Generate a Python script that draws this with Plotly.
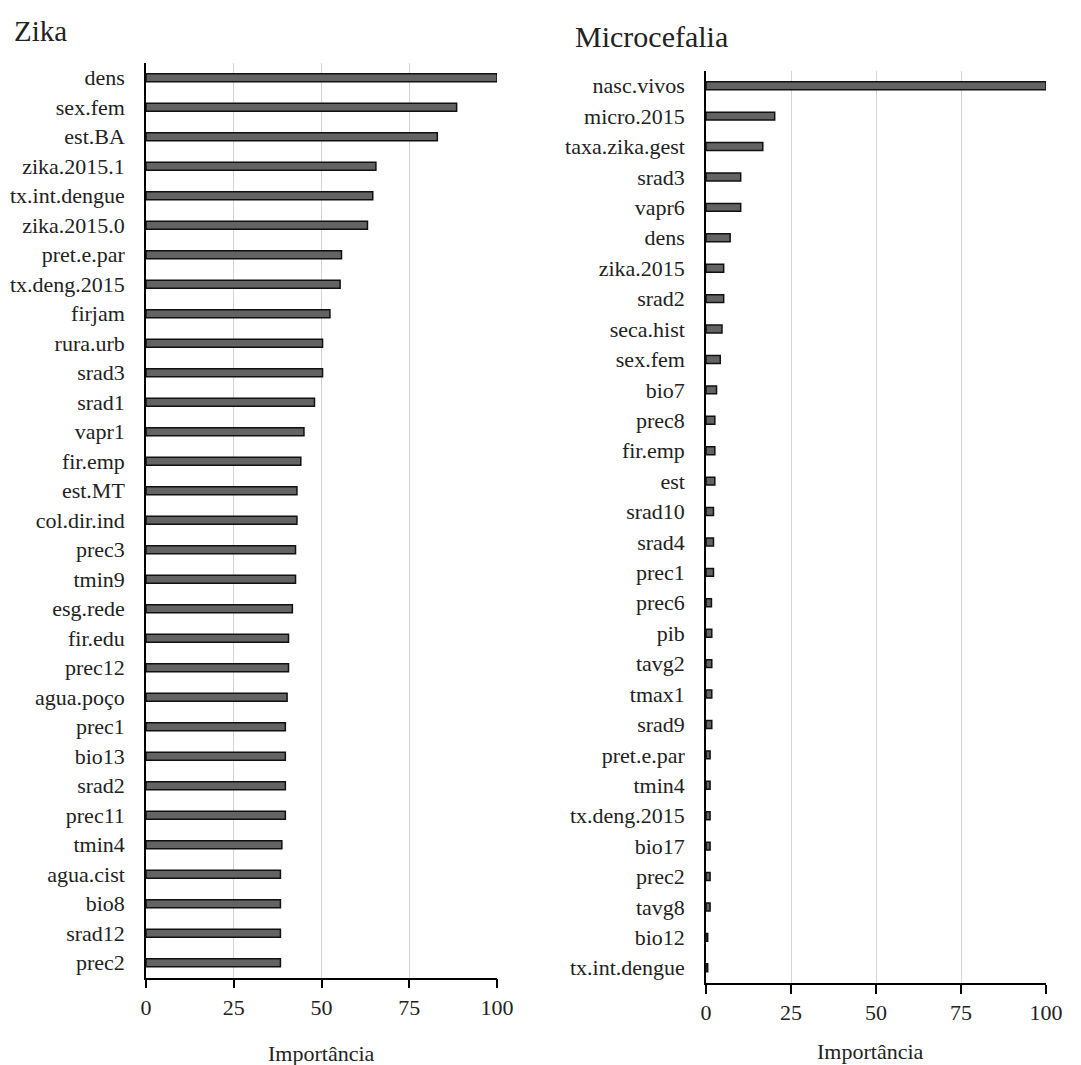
import plotly.graph_objects as go

zika_vars = ["dens", "sex.fem", "est.BA", "zika.2015.1", "tx.int.dengue", "zika.2015.0",
             "pret.e.par", "tx.deng.2015", "firjam", "rura.urb", "srad3", "srad1", "vapr1",
             "fir.emp", "est.MT", "col.dir.ind", "prec3", "tmin9", "esg.rede", "fir.edu",
             "prec12", "agua.poço", "prec1", "bio13", "srad2", "prec11", "tmin4",
             "agua.cist", "bio8", "srad12", "prec2"]
zika_imp = [100, 88.5, 83.0, 65.5, 64.6, 63.1, 55.7, 55.3, 52.4, 50.3, 50.3, 48.0, 45.0,
            44.1, 43.0, 43.0, 42.6, 42.6, 41.7, 40.6, 40.6, 40.2, 39.7, 39.7, 39.7, 39.7,
            38.7, 38.3, 38.3, 38.3, 38.3]

micro_vars = ["nasc.vivos", "micro.2015", "taxa.zika.gest", "srad3", "vapr6", "dens",
              "zika.2015", "srad2", "seca.hist", "sex.fem", "bio7", "prec8", "fir.emp", "est",
              "srad10", "srad4", "prec1", "prec6", "pib", "tavg2", "tmax1", "srad9",
              "pret.e.par", "tmin4", "tx.deng.2015", "bio17", "prec2", "tavg8", "bio12",
              "tx.int.dengue"]
micro_imp = [100, 20.2, 16.7, 10.2, 10.2, 7.1, 5.2, 5.2, 4.7, 4.2, 3.1, 2.6, 2.6, 2.6,
             2.2, 2.2, 2.2, 1.6, 1.7, 1.7, 1.7, 1.7, 1.2, 1.2, 1.2, 1.2, 1.2, 1.2, 0.5, 0.5]

x_ticks = [0, 25, 50, 75, 100]
x_title = "Importância"
titles = ["Zika", "Microcefalia"]

FONT = "Liberation Serif"
OFF = 8  # default page body margin
W, H = 1081 - OFF, 1065 - OFF


def px(x):
    return (x - OFF) / W


def py(y):
    return 1 - (y - OFF) / H


fig = go.Figure()
bar_style = dict(orientation="h", marker=dict(color="#636363", line=dict(color="#111111", width=1.5)),
                 showlegend=False)
fig.add_trace(go.Bar(x=zika_imp, y=zika_vars, width=0.27, xaxis="x", yaxis="y", **bar_style))
fig.add_trace(go.Bar(x=micro_imp, y=micro_vars, width=0.26, xaxis="x2", yaxis="y2", **bar_style))


def xax(domain, anchor):
    return dict(domain=domain, anchor=anchor, range=[0, 100], tickvals=x_ticks,
                showgrid=True, gridcolor="#d4d4d4", gridwidth=1,
                showline=True, linecolor="black", linewidth=1.5,
                ticks="outside", ticklen=9, tickwidth=1.5, tickcolor="black",
                tickfont=dict(family=FONT, size=22, color="#222"),
                zeroline=False, fixedrange=True)


def yax(domain, anchor, cats):
    return dict(domain=domain, anchor=anchor, categoryorder="array", categoryarray=cats,
                autorange="reversed", showgrid=False, showline=True, linecolor="black",
                linewidth=1.5, ticks="", ticklabelstandoff=15,
                tickfont=dict(family=FONT, size=22, color="#222"), zeroline=False)


def note(text, x, y, size, anchor="left"):
    return dict(text=text, x=px(x), y=py(y), xref="paper", yref="paper",
                xanchor=anchor, yanchor="middle", showarrow=False,
                font=dict(family=FONT, size=size, color="#222"))


fig.update_layout(
    width=W, height=H,
    margin=dict(l=0, r=0, t=0, b=0, autoexpand=False),
    paper_bgcolor="white", plot_bgcolor="white",
    xaxis=xax([px(146), px(497)], "y"),
    yaxis=yax([py(977.5), py(63)], "x", zika_vars),
    xaxis2=xax([px(706), px(1046)], "y2"),
    yaxis2=yax([py(983), py(70.5)], "x2", micro_vars),
    annotations=[
        note(titles[0], 12, 31, 29),
        note(titles[1], 573, 36, 30),
        note(x_title, 321, 1053, 22, "center"),
        note(x_title, 870, 1051, 22, "center"),
    ],
)

fig.write_html("out.html")
